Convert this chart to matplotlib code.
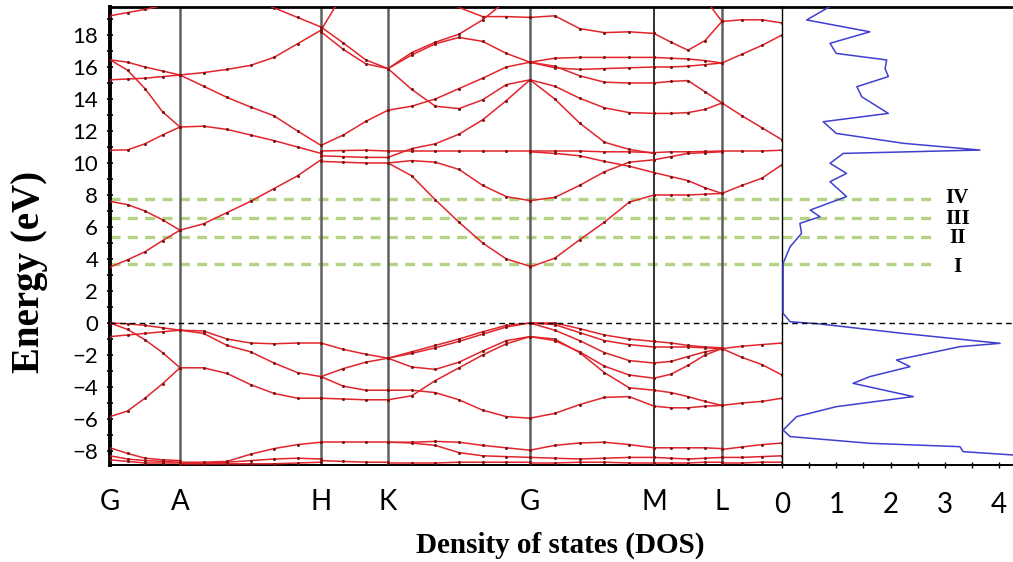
import numpy as np
import matplotlib
matplotlib.use("Agg")
import matplotlib.pyplot as plt

nan = np.nan

# ---- high symmetry path (k in path units) ----
kpts = [0, 70, 211, 278, 420, 544, 612, 672]
klabels = ["G", "A", "H", "K", "G", "M", "L"]

# ---- bands, per segment; each band = energies (eV) sampled evenly along the segment ----
seg_GA = [
    [19.2, 19.4, 19.6, 19.85, 20.3],
    [16.45, 16.3, 16.0, 15.75, 15.5],
    [16.45, 15.8, 14.65, 13.2, 12.25],
    [15.2, 15.25, 15.3, 15.4, 15.5],
    [10.8, 10.82, 11.2, 11.75, 12.25],
    [7.6, 7.4, 7.0, 6.45, 5.8],
    [3.5, 3.95, 4.45, 5.15, 5.8],
    [0.0, -0.05, -0.15, -0.3, -0.45],
    [-0.85, -0.75, -0.65, -0.55, -0.45],
    [0.0, -0.4, -1.05, -1.85, -2.8],
    [-5.85, -5.5, -4.7, -3.8, -2.8],
    [-7.8, -8.15, -8.45, -8.55, -8.6],
    [-8.3, -8.5, -8.6, -8.65, -8.7],
    [-8.55, -8.65, -8.75, -8.75, -8.75],
]
seg_AH = [
    [nan, nan, nan, 20.3, 19.7, 19.1, 18.5],
    [15.5, 15.65, 15.85, 16.1, 16.6, 17.45, 18.3],
    [15.5, 14.8, 14.1, 13.5, 12.95, 12.0, 11.1],
    [12.25, 12.3, 12.1, 11.75, 11.4, 11.0, 10.6],
    [5.8, 6.2, 6.9, 7.6, 8.4, 9.2, 10.2],
    [-0.45, -0.5, -1.0, -1.25, -1.3, -1.25, -1.25],
    [-0.45, -0.65, -1.4, -1.8, -2.5, -3.1, -3.35],
    [-2.8, -2.8, -3.15, -3.85, -4.4, -4.7, -4.7],
    [-8.7, -8.7, -8.65, -8.2, -7.85, -7.6, -7.45],
    [-8.75, -8.75, -8.7, -8.6, -8.5, -8.45, -8.5],
    [-8.8, -8.8, -8.8, -8.8, -8.8, -8.75, -8.7],
]
seg_HK = [
    [18.3, 20.6, nan, nan],
    [18.5, 17.5, 16.45, 15.9],
    [18.2, 17.1, 16.2, 15.9],
    [11.1, 11.75, 12.6, 13.3],
    [10.75, 10.78, 10.8, 10.75],
    [10.45, 10.4, 10.35, 10.35],
    [10.1, 10.05, 10.0, 10.0],
    [-1.25, -1.65, -1.95, -2.2],
    [-3.35, -2.85, -2.45, -2.2],
    [-3.35, -3.95, -4.2, -4.2],
    [-4.7, -4.75, -4.8, -4.8],
    [-7.45, -7.45, -7.45, -7.45],
    [-8.6, -8.65, -8.7, -8.7],
]
seg_KG = [
    [nan, nan, 20.4, 19.72, 19.15, 19.15, 19.1],
    [15.9, 16.9, 17.55, 18.05, 18.95, 20.15, nan],
    [15.9, 16.75, 17.45, 17.85, 17.6, 16.85, 16.3],
    [15.9, 14.6, 13.55, 13.4, 13.95, 14.9, 15.2],
    [13.3, 13.55, 14.0, 14.65, 15.3, 16.0, 16.3],
    [10.35, 10.9, 11.2, 11.8, 12.7, 13.9, 15.2],
    [10.75, 10.75, 10.75, 10.75, 10.75, 10.75, 10.75],
    [10.0, 10.15, 10.05, 9.6, 8.6, 7.9, 7.65],
    [10.0, 9.2, 7.7, 6.3, 5.0, 4.0, 3.55],
    [-2.2, -1.8, -1.4, -1.0, -0.55, -0.15, 0.0],
    [-2.2, -1.9, -1.55, -1.15, -0.7, -0.25, 0.0],
    [-2.2, -2.75, -2.9, -2.45, -1.75, -1.1, -0.85],
    [-4.8, -4.55, -3.6, -2.8, -2.0, -1.3, -0.85],
    [-4.2, -4.2, -4.35, -4.8, -5.45, -5.85, -5.95],
    [-7.45, -7.45, -7.4, -7.45, -7.65, -7.8, -7.95],
    [-7.45, -7.5, -7.65, -8.1, -8.3, -8.35, -8.4],
    [-8.75, -8.75, -8.75, -8.7, -8.7, -8.7, -8.7],
]
seg_GM = [
    [19.1, 19.2, 18.4, 18.15, 18.2, 18.1],
    [16.3, 16.55, 16.6, 16.6, 16.6, 16.6],
    [16.3, 15.95, 15.85, 15.9, 15.95, 16.0],
    [16.3, 16.05, 15.45, 15.05, 15.0, 15.0],
    [15.2, 14.8, 14.05, 13.45, 13.15, 13.1],
    [15.2, 14.0, 12.5, 11.3, 10.85, 10.6],
    [10.75, 10.75, 10.75, 10.7, 10.7, 10.65],
    [10.7, 10.6, 10.45, 10.1, 9.8, 9.4],
    [7.65, 7.85, 8.6, 9.45, 10.05, 10.2],
    [3.5, 4.05, 5.2, 6.3, 7.55, 8.0],
    [0.0, 0.0, -0.35, -0.75, -1.0, -1.15],
    [0.0, -0.1, -0.6, -1.1, -1.35, -1.5],
    [0.0, -0.45, -1.1, -1.85, -2.35, -2.5],
    [-0.85, -1.1, -1.8, -2.7, -3.25, -3.45],
    [-0.85, -1.0, -1.85, -3.1, -4.05, -4.2],
    [-5.95, -5.65, -5.1, -4.65, -4.6, -5.2],
    [-7.95, -7.65, -7.5, -7.45, -7.6, -7.8],
    [-8.4, -8.45, -8.5, -8.45, -8.4, -8.4],
    [-8.75, -8.75, -8.7, -8.7, -8.75, -8.75],
]
seg_ML = [
    [18.1, 17.55, 17.05, 17.65, 18.85],
    [nan, nan, nan, 20.25, 18.85],
    [16.6, 16.55, 16.5, 16.4, 16.25],
    [16.0, 16.0, 16.05, 16.15, 16.25],
    [15.0, 15.1, 15.15, 14.45, 13.75],
    [13.1, 13.1, 13.15, 13.35, 13.75],
    [10.65, 10.7, 10.7, 10.72, 10.75],
    [10.2, 10.4, 10.6, 10.65, 10.7],
    [9.4, 9.15, 8.9, 8.45, 8.1],
    [8.0, 8.0, 8.0, 8.05, 8.1],
    [-1.15, -1.25, -1.4, -1.5, -1.55],
    [-1.5, -1.5, -1.5, -1.55, -1.6],
    [-2.5, -2.4, -2.1, -1.8, -1.6],
    [-3.45, -3.2, -2.65, -2.0, -1.6],
    [-4.2, -4.35, -4.6, -4.9, -5.15],
    [-5.2, -5.3, -5.3, -5.2, -5.15],
    [-7.8, -7.8, -7.8, -7.8, -7.85],
    [-8.4, -8.45, -8.5, -8.45, -8.4],
    [-8.75, -8.75, -8.75, -8.7, -8.7],
]
seg_LX = [
    [18.85, 18.95, 18.95, 18.75],
    [16.25, 16.8, 17.35, 18.0],
    [13.75, 12.95, 12.2, 11.45],
    [10.75, 10.75, 10.75, 10.8],
    [8.1, 8.6, 9.05, 9.9],
    [-1.6, -1.45, -1.35, -1.25],
    [-1.6, -2.15, -2.6, -3.25],
    [-5.15, -5.0, -4.9, -4.7],
    [-7.9, -7.75, -7.6, -7.5],
    [-8.4, -8.4, -8.35, -8.3],
    [-8.75, -8.75, -8.7, -8.7],
]
segments = [seg_GA, seg_AH, seg_HK, seg_KG, seg_GM, seg_ML, seg_LX]

# ---- density of states ----
dos_E = [19.9, 19.77, 18.94, 18.2, 17.48, 16.85, 16.44, 15.9, 15.4, 14.77, 14.14,
         13.1, 12.58, 11.85, 11.23, 10.81, 10.6, 9.98, 9.35, 8.83, 7.9, 7.06,
         6.64, 6.23, 5.6, 4.77, 3.73, 0.6, 0.08, -0.06, -0.65, -1.27, -1.48,
         -2.31, -2.73, -3.35, -3.77, -4.6, -5.23, -5.85, -6.69, -7.1, -7.52,
         -7.73, -8.04, -8.25, -8.4]
dos_val = [0.95, 0.88, 0.455, 1.62, 0.885, 1.0, 1.93, 1.9, 1.96, 1.38, 1.47,
           1.96, 0.76, 1.0, 2.24, 3.65, 1.13, 0.885, 1.19, 0.885, 1.19, 0.52,
           0.70, 0.33, 0.36, 0.15, 0.02, 0.02, 0.15, 0.70, 2.23, 4.02, 3.28,
           2.11, 2.36, 1.62, 1.31, 2.42, 1.0, 0.27, 0.02, 0.15, 1.62,
           3.28, 3.34, 4.26, 4.5]

# ---- transition levels ----
level_E = [3.69, 5.38, 6.56, 7.75]
level_names = ["I", "II", "III", "IV"]
level_label_E = [3.5, 5.31, 6.53, 7.84]

ylim = (-8.875, 19.75)
red = "#e3242b"
tick_font = "Lato"

fig = plt.figure(figsize=(10.13, 5.62), dpi=100)
ax = fig.add_axes([110 / 1013, 1 - 465 / 562, 672 / 1013, 458 / 562])
axd = fig.add_axes([782 / 1013, 1 - 465 / 562, 231 / 1013, 458 / 562])

# band structure
for i, seg in enumerate(segments):
    for band in seg:
        k = np.linspace(kpts[i], kpts[i + 1], len(band))
        ax.plot(k, band, color=red, lw=1.1, marker="o", ms=2.2,
                mfc="#7a1515", mec="none", zorder=3)

for kk in kpts[1:-1]:
    c, w = ("#222222", 1.3) if kk == 544 else ("#606060", 1.8)
    ax.axvline(kk, color=c, lw=w, zorder=2)

ax.axhline(0, color="black", lw=1.0, ls=(0, (4, 3)), zorder=4)
for e in level_E:
    ax.axhline(e, color="#b3d487", lw=2.4, ls=(0, (3, 2.2)), zorder=1)

ax.set_xlim(kpts[0], kpts[-1])
ax.set_ylim(*ylim)
ax.set_xticks(kpts[:-1])
ax.set_xticklabels(klabels, fontsize=20, family=tick_font)
ax.tick_params(axis="x", length=0, pad=17)
ax.set_yticks(np.arange(-8, 19, 2))
ax.set_yticks(np.arange(-7, 20, 2), minor=True)
ax.tick_params(axis="y", which="both", direction="inout", length=5, width=1.2,
               labelsize=16, pad=6)
for lab in ax.get_yticklabels():
    lab.set_family(tick_font)
ax.spines["left"].set_linewidth(2.8)
ax.spines["top"].set_linewidth(2.0)
ax.spines["bottom"].set_linewidth(1.4)
ax.spines["right"].set_visible(False)

# DOS panel
axd.plot(dos_val, dos_E, color="#3f3fd0", lw=1.1, zorder=3)
axd.axhline(0, color="black", lw=1.0, ls=(0, (4, 3)), zorder=4)
for e, name, le in zip(level_E, level_names, level_label_E):
    axd.plot([0, 2.86], [e, e], color="#b3d487", lw=2.4, ls=(0, (3, 2.2)), zorder=1)
    axd.text(3.23, le, name, ha="center", va="center", fontsize=15,
             fontweight="bold", family="Liberation Serif")
axd.set_xlim(0, 231 / 54.25)
axd.set_ylim(*ylim)
axd.set_yticks([])
axd.set_xticks(np.arange(0, 5, 1))
axd.set_xticks(np.arange(0.5, 4.3, 0.5), minor=True)
axd.tick_params(axis="x", which="both", direction="inout", length=5, width=1.0,
                labelsize=20, pad=17)
for lab in axd.get_xticklabels():
    lab.set_family(tick_font)
axd.spines["left"].set_linewidth(1.0)
axd.spines["top"].set_linewidth(2.0)
axd.spines["bottom"].set_linewidth(1.4)
axd.spines["right"].set_visible(False)
axd.patch.set_alpha(0)

fig.text(30 / 1013, 1 - 272 / 562, "Energy (eV)", rotation=90, ha="center",
         va="center", fontsize=28, fontweight="bold", family="Liberation Serif")
fig.text(560 / 1013, 1 - 545 / 562, "Density of states (DOS)", ha="center",
         va="center", fontsize=21, fontweight="bold", family="Liberation Serif")

fig.savefig("out.png", dpi=100)
